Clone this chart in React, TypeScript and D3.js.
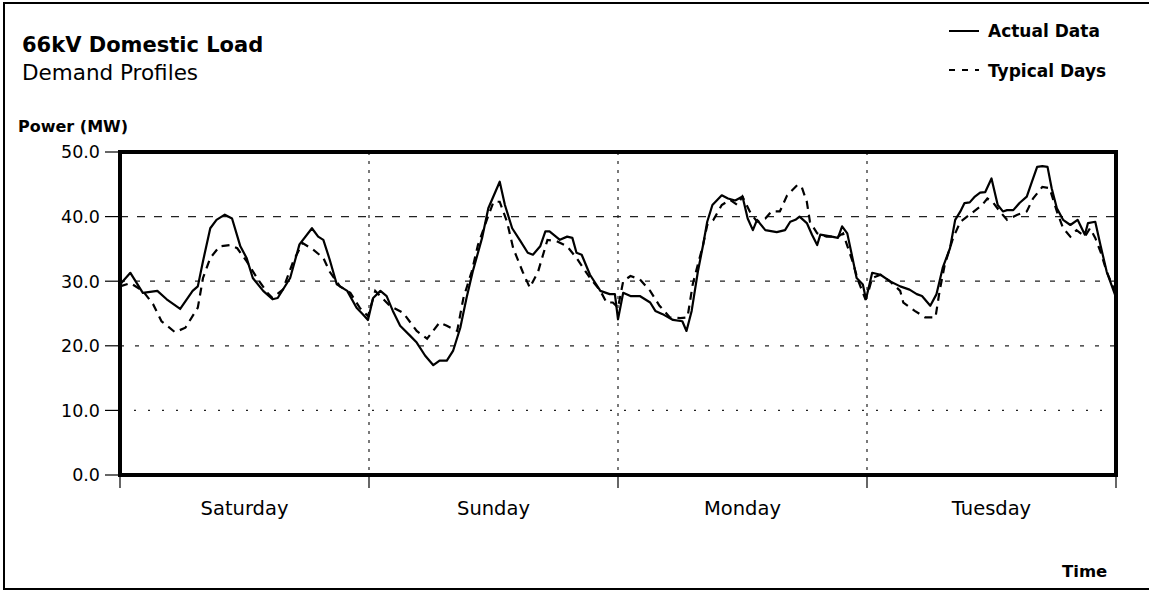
import React from "react"
import * as d3 from "d3"

const WIDTH = 1149
const HEIGHT = 591
const PLOT = { left: 120, right: 1116, top: 152, bottom: 475 }
const FONT = "'DejaVu Sans', 'Liberation Sans', sans-serif"

const days = ["Saturday", "Sunday", "Monday", "Tuesday"]
const yTicks = [0, 10, 20, 30, 40, 50]
const gridValues = [10, 20, 30, 40]
const dayBreaks = [0, 24, 48, 72, 96]

// [hour, MW]
const actualData: [number, number][] = [
    [0.0, 29.5], [1.0, 31.3], [2.2, 28.2], [3.6, 28.5], [4.5, 27.2], [5.8, 25.7],
    [7.0, 28.5], [7.5, 29.2], [8.0, 33.1], [8.7, 38.2], [9.3, 39.5], [10.1, 40.3],
    [10.8, 39.7], [11.6, 35.4], [12.2, 33.6], [12.8, 30.5], [13.8, 28.5], [14.7, 27.2],
    [15.2, 27.4], [16.4, 30.5], [17.3, 35.7], [18.5, 38.2], [19.1, 36.9], [19.6, 36.4],
    [20.2, 33.4], [20.9, 29.5], [21.9, 28.5], [22.8, 25.9], [23.4, 24.9], [23.9, 24.0],
    [24.4, 27.4], [25.1, 28.5], [25.7, 27.7], [26.3, 25.4], [27.0, 23.1], [28.0, 21.5],
    [28.6, 20.5], [29.4, 18.5], [30.2, 17.0], [30.8, 17.7], [31.5, 17.7], [32.1, 19.2],
    [32.8, 22.8], [33.4, 27.4], [34.0, 31.5], [34.9, 36.7], [35.5, 41.3], [36.6, 45.4],
    [37.1, 41.8], [37.8, 38.2], [38.6, 36.2], [39.3, 34.4], [39.8, 34.1], [40.5, 35.4],
    [41.0, 37.7], [41.4, 37.7], [42.4, 36.4], [43.1, 36.9], [43.6, 36.7], [44.0, 34.4],
    [44.5, 34.1], [45.3, 31.0], [46.3, 28.5], [47.2, 28.0], [47.7, 28.0], [48.0, 24.1],
    [48.5, 28.2], [49.2, 27.7], [50.1, 27.7], [51.1, 26.7], [51.6, 25.4], [52.3, 24.9],
    [53.3, 24.0], [54.2, 23.8], [54.6, 22.3], [55.1, 25.4], [55.7, 31.5], [56.2, 35.6],
    [56.6, 39.2], [57.1, 41.8], [58.0, 43.3], [58.6, 42.8], [59.3, 42.5], [60.0, 43.1],
    [60.5, 39.7], [61.0, 37.9], [61.4, 39.5], [62.2, 37.9], [63.3, 37.6], [64.1, 37.9],
    [64.6, 39.2], [65.1, 39.5], [65.5, 40.0], [66.2, 39.0], [66.7, 37.2], [67.2, 35.6],
    [67.5, 37.2], [68.6, 36.9], [69.2, 36.7], [69.6, 38.5], [70.1, 37.4], [70.6, 33.6],
    [71.0, 30.5], [71.6, 29.5], [71.9, 27.2], [72.5, 31.3], [73.3, 31.0], [74.2, 30.0],
    [75.2, 29.2], [76.1, 28.7], [76.8, 28.0], [77.3, 27.7], [78.1, 26.2], [78.7, 28.0],
    [79.3, 32.1], [80.0, 35.1], [80.5, 39.5], [81.0, 40.8], [81.4, 42.1], [81.9, 42.2],
    [82.4, 43.1], [82.9, 43.7], [83.4, 43.8], [84.0, 45.9], [84.6, 41.8], [85.1, 40.8],
    [85.5, 41.0], [86.1, 41.0], [86.7, 42.1], [87.4, 43.1], [87.9, 45.4], [88.4, 47.7],
    [88.9, 47.8], [89.4, 47.7], [89.8, 44.4], [90.3, 41.3], [90.9, 39.5], [91.6, 38.7],
    [92.3, 39.5], [93.0, 37.2], [93.3, 39.0], [94.0, 39.2], [94.5, 35.6], [95.1, 31.5],
    [96.0, 27.5],
]

const typicalData: [number, number][] = [
    [0.0, 29.2], [1.0, 29.7], [2.2, 28.5], [3.2, 26.4], [4.0, 23.8], [5.3, 22.1],
    [6.3, 22.8], [7.5, 25.9], [8.0, 30.5], [8.7, 33.6], [9.6, 35.4], [10.6, 35.6],
    [11.3, 35.1], [12.2, 33.1], [13.2, 30.5], [14.2, 28.2], [14.7, 27.4], [15.7, 28.7],
    [16.7, 33.1], [17.6, 35.9], [18.6, 34.9], [19.6, 33.6], [20.2, 31.5], [21.2, 29.2],
    [22.2, 28.2], [23.1, 25.9], [23.9, 24.6], [24.6, 28.5], [26.0, 26.2], [27.3, 25.1],
    [28.6, 22.3], [29.6, 21.1], [30.8, 23.6], [31.5, 23.1], [32.5, 22.3], [33.1, 27.4],
    [33.9, 31.5], [34.5, 35.6], [35.4, 39.7], [36.0, 42.3], [36.6, 42.3], [37.3, 39.2],
    [37.9, 35.1], [38.8, 31.5], [39.5, 29.0], [40.3, 31.5], [41.2, 36.4], [42.1, 36.2],
    [43.1, 35.4], [44.0, 33.6], [45.3, 30.5], [46.3, 28.5], [46.9, 26.7], [47.5, 26.7],
    [48.0, 25.9], [48.5, 30.0], [49.2, 30.8], [50.1, 30.3], [51.1, 28.5], [52.0, 26.2],
    [53.0, 24.4], [54.0, 24.3], [54.7, 24.4], [55.2, 29.5], [55.7, 32.6], [56.2, 35.6],
    [56.6, 38.7], [57.2, 39.5], [58.0, 41.8], [58.8, 42.6], [59.5, 41.8], [60.0, 43.1],
    [60.7, 40.8], [61.4, 39.2], [62.2, 39.7], [62.8, 40.8], [63.6, 40.8], [64.3, 43.3],
    [65.3, 44.9], [65.7, 44.6], [66.2, 42.3], [66.5, 39.2], [67.2, 37.4], [68.1, 36.9],
    [69.2, 36.9], [69.7, 37.4], [70.6, 33.1], [71.1, 30.3], [71.8, 27.4], [72.1, 28.2],
    [72.5, 30.5], [73.3, 31.0], [74.2, 30.0], [75.2, 28.5], [75.5, 26.7], [76.6, 25.4],
    [77.6, 24.4], [78.6, 24.4], [79.0, 28.5], [79.5, 32.6], [80.3, 36.7], [81.0, 39.2],
    [81.9, 40.3], [83.1, 41.8], [83.6, 42.8], [84.1, 42.3], [84.8, 40.8], [85.5, 39.5],
    [86.5, 40.3], [87.4, 40.8], [88.0, 42.8], [88.9, 44.6], [89.6, 44.4], [90.3, 40.8],
    [90.9, 38.2], [91.6, 36.9], [92.2, 37.9], [93.0, 36.9], [93.5, 38.2], [94.0, 36.7],
    [94.5, 34.6], [95.1, 31.5], [96.0, 28.0],
]

const gridDash: Record<number, string> = { 10: "2,12", 20: "4,11", 30: "5,10", 40: "8,9" }

export default function App() {
    const x = d3.scaleLinear().domain([0, 96]).range([PLOT.left, PLOT.right])
    const y = d3.scaleLinear().domain([0, 50]).range([PLOT.bottom, PLOT.top])

    const line = d3
        .line<[number, number]>()
        .x((d) => x(d[0]))
        .y((d) => y(d[1]))

    return (
        <svg
            width={WIDTH}
            height={HEIGHT}
            style={{ position: "absolute", left: 0, top: 0, background: "#fff" }}
            fontFamily={FONT}
        >
            {/* outer frame */}
            <rect x={4} y={3} width={WIDTH + 10} height={586} fill="none" stroke="#000" strokeWidth={2} />

            {/* titles */}
            <text x={22} y={52} fontSize={21} fontWeight="bold">66kV Domestic Load</text>
            <text x={22} y={80} fontSize={21.5}>Demand Profiles</text>
            <text x={18} y={132} fontSize={16} fontWeight="bold">Power (MW)</text>

            {/* legend */}
            <line x1={949} x2={979} y1={31} y2={31} stroke="#000" strokeWidth={2} />
            <text x={988} y={37} fontSize={17} fontWeight="bold">Actual Data</text>
            <line x1={949} x2={979} y1={70} y2={70} stroke="#000" strokeWidth={2} strokeDasharray="6,7" />
            <text x={988} y={77} fontSize={17} fontWeight="bold">Typical Days</text>

            {/* grid */}
            {gridValues.map((v) => (
                <line
                    key={"h" + v}
                    x1={PLOT.left}
                    x2={PLOT.right}
                    y1={y(v)}
                    y2={y(v)}
                    stroke="#222"
                    strokeWidth={1.2}
                    strokeDasharray={gridDash[v]}
                />
            ))}
            {dayBreaks.slice(1, -1).map((h) => (
                <line
                    key={"v" + h}
                    x1={x(h)}
                    x2={x(h)}
                    y1={PLOT.top}
                    y2={PLOT.bottom}
                    stroke="#222"
                    strokeWidth={1.2}
                    strokeDasharray="3,6"
                />
            ))}

            {/* series */}
            <path d={line(typicalData) || ""} fill="none" stroke="#000" strokeWidth={2.2} strokeDasharray="8,6" />
            <path d={line(actualData) || ""} fill="none" stroke="#000" strokeWidth={2.2} strokeLinejoin="round" />

            {/* plot frame */}
            <rect
                x={PLOT.left}
                y={PLOT.top}
                width={PLOT.right - PLOT.left}
                height={PLOT.bottom - PLOT.top}
                fill="none"
                stroke="#000"
                strokeWidth={4}
            />

            {/* y axis */}
            {yTicks.map((v) => (
                <g key={"y" + v}>
                    <line x1={105} x2={PLOT.left} y1={y(v)} y2={y(v)} stroke="#000" strokeWidth={1.2} />
                    <text x={100} y={y(v)} dy="0.36em" textAnchor="end" fontSize={17.5}>
                        {v.toFixed(1)}
                    </text>
                </g>
            ))}

            {/* x axis */}
            {dayBreaks.map((h) => (
                <line key={"xt" + h} x1={x(h)} x2={x(h)} y1={PLOT.bottom} y2={PLOT.bottom + 13} stroke="#000" strokeWidth={1.2} />
            ))}
            {days.map((d, i) => (
                <text key={d} x={x(i * 24 + 12)} y={515} textAnchor="middle" fontSize={19.5}>
                    {d}
                </text>
            ))}
            <text x={1062} y={577} fontSize={16.5} fontWeight="bold">Time</text>
        </svg>
    )
}
